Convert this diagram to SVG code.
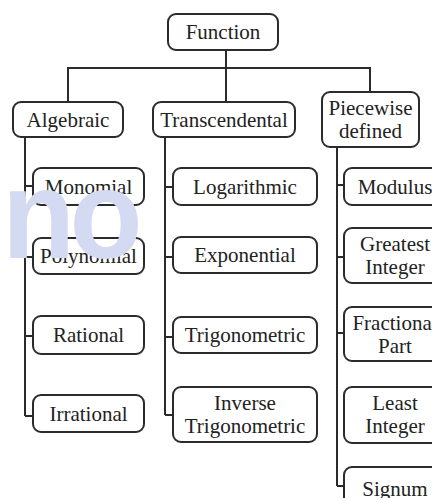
<svg xmlns="http://www.w3.org/2000/svg" xmlns:xlink="http://www.w3.org/1999/xlink" width="432" height="498" viewBox="0 0 432 498">
<style>
.box{fill:#fff;stroke:#2b2b2b;stroke-width:2}
.t{font-family:'Liberation Serif',serif;font-size:21px;fill:#222;text-anchor:middle}
.c{fill:none;stroke:#2b2b2b;stroke-width:2}
.wm{font-family:'Liberation Sans',Arial,sans-serif;font-weight:bold;font-size:126px;fill:#d3daf2}
</style>
<defs>
<text id="wm" class="wm" x="0" y="0" letter-spacing="-6">no</text>
</defs>
<rect width="432" height="498" fill="#fff"/>
<g id="connectors" class="c">
<path d="M226 50V102M68 102V68H370V92"/>
<path d="M25 137V416M25 186H33M25 257H33M25 336H33M25 416H33"/>
<path d="M165 137V415M165 187H173M165 257H173M165 337H173M165 415H173"/>
<path d="M337 147V486M337 185H344M337 257H344M337 333H344M337 486H344"/>
</g>
<g id="function"><rect class="box" x="168" y="14" width="110" height="36" rx="8"/><text class="t" x="223" y="39">Function</text></g>
<g id="algebraic"><rect class="box" x="13" y="102" width="110" height="35" rx="8"/><text class="t" x="68" y="126.5">Algebraic</text></g>
<g id="transcendental"><rect class="box" x="153" y="102" width="142" height="35" rx="8"/><text class="t" x="224" y="126.5">Transcendental</text></g>
<g id="piecewise"><rect class="box" x="322" y="92" width="97" height="55" rx="8"/><text class="t" x="370.5" y="115">Piecewise</text><text class="t" x="370.5" y="138">defined</text></g>
<g id="monomial"><rect class="box" x="33" y="168" width="111" height="37" rx="8"/><text class="t" x="88.5" y="193.5">Monomial</text></g>
<g id="polynomial"><rect class="box" x="33" y="238" width="111" height="36" rx="8"/><text class="t" x="88.5" y="263">Polynomial</text></g>
<g id="rational"><rect class="box" x="33" y="316" width="111" height="38" rx="8"/><text class="t" x="88.5" y="342">Rational</text></g>
<g id="irrational"><rect class="box" x="33" y="395" width="111" height="37" rx="8"/><text class="t" x="88.5" y="420.5">Irrational</text></g>
<g id="logarithmic"><rect class="box" x="173" y="168" width="144" height="37" rx="8"/><text class="t" x="245" y="193.5">Logarithmic</text></g>
<g id="exponential"><rect class="box" x="173" y="237" width="144" height="36" rx="8"/><text class="t" x="245" y="262">Exponential</text></g>
<g id="trigonometric"><rect class="box" x="173" y="317" width="144" height="36" rx="8"/><text class="t" x="245" y="342">Trigonometric</text></g>
<g id="inverse-trigonometric"><rect class="box" x="173" y="387" width="144" height="55" rx="8"/><text class="t" x="245" y="410">Inverse</text><text class="t" x="245" y="433">Trigonometric</text></g>
<g id="modulus"><rect class="box" x="344" y="168" width="102" height="37" rx="8"/><text class="t" x="395" y="193.5">Modulus</text></g>
<g id="greatest-integer"><rect class="box" x="344" y="228" width="102" height="55" rx="8"/><text class="t" x="395" y="251">Greatest</text><text class="t" x="395" y="274">Integer</text></g>
<g id="fractional-part"><rect class="box" x="344" y="307" width="102" height="54" rx="8"/><text class="t" x="395" y="329.5">Fractional</text><text class="t" x="395" y="352.5">Part</text></g>
<g id="least-integer"><rect class="box" x="344" y="387" width="102" height="56" rx="8"/><text class="t" x="395" y="410">Least</text><text class="t" x="395" y="433">Integer</text></g>
<g id="signum"><rect class="box" x="344" y="467" width="102" height="44" rx="8"/><text class="t" x="395" y="496">Signum</text></g>
<use href="#wm" xlink:href="#wm" transform="translate(2 258) scale(0.95 1)"/>
</svg>
